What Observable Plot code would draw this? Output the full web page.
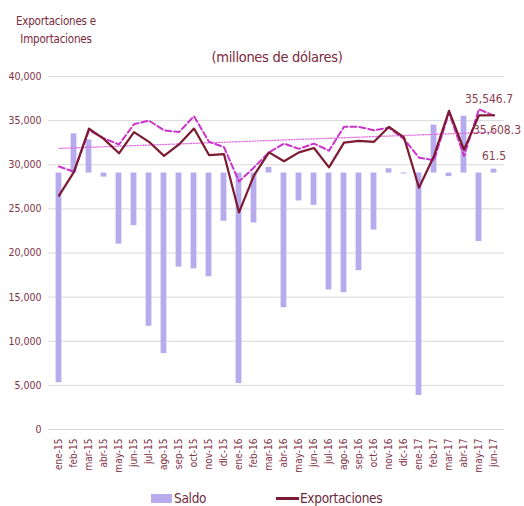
<!DOCTYPE html>
<html><head><meta charset="utf-8">
<script src="https://cdn.jsdelivr.net/npm/d3@7"></script>
<script src="https://cdn.jsdelivr.net/npm/@observablehq/plot@0.6"></script>
<style>
body{margin:0;background:#fff;}
#wrap{position:relative;width:524px;height:506px;overflow:hidden;font-family:"Liberation Sans Narrow","DejaVu Sans Condensed",sans-serif;}
.t{position:absolute;color:#7a2a3c;white-space:nowrap;}
</style></head><body>
<div id="wrap">
  <div id="chart" style="position:absolute;left:0;top:0"></div>
  <div class="t" style="left:0;width:112px;text-align:center;top:12px;font-size:11.5px;line-height:18px;letter-spacing:-0.2px">Exportaciones e<br>Importaciones</div>
  <div class="t" style="left:0;width:554px;text-align:center;top:49px;font-size:14.5px;letter-spacing:-0.3px">(millones de dólares)</div>
  <div class="t" style="left:151px;top:494px;width:21px;height:9px;background:#b7aaed"></div>
  <div class="t" style="left:174px;top:490px;font-size:13.5px;line-height:17px;color:#6e2a3a;letter-spacing:-0.3px">Saldo</div>
  <div class="t" style="left:276px;top:497px;width:23px;height:2.5px;background:#7b1a30"></div>
  <div class="t" style="left:300px;top:490px;font-size:13.5px;line-height:17px;color:#6e2a3a;letter-spacing:-0.3px">Exportaciones</div>
</div>
<script>
const months = ["ene-15","feb-15","mar-15","abr-15","may-15","jun-15","jul-15","ago-15","sep-15","oct-15","nov-15","dic-15",
  "ene-16","feb-16","mar-16","abr-16","may-16","jun-16","jul-16","ago-16","sep-16","oct-16","nov-16","dic-16",
  "ene-17","feb-17","mar-17","abr-17","may-17","jun-17"];
const exportaciones = [26500,29200,34100,32900,31300,33700,32600,31000,32300,34100,31100,31200,
  24600,28800,31400,30400,31400,31900,29700,32500,32700,32600,34300,33100,
  27400,31000,36100,31700,35600,35608.3];
const importaciones = [29800,29200,33900,33000,32300,34600,35000,33900,33700,35500,32600,32000,
  28100,29700,31400,32400,31800,32400,31600,34300,34300,33900,34200,32900,
  30800,30500,35900,31000,36300,35546.7];
// Saldo bars as drawn against the left axis (they hang from the saldo zero line)
const saldoBase = 29060;
const saldoBar = [5300,33500,32800,28600,21000,23100,11700,8600,18400,18200,17300,23600,
  5200,23400,29700,13800,25900,25400,15800,15500,18000,22600,29550,28950,
  3850,34500,28650,35500,21300,29500];
const trendMonths = ["ene-15","jun-17"];
const trendValues = [31850,33700];
const yTicks = [0,5000,10000,15000,20000,25000,30000,35000,40000];
const endLabels = [
  {month:"jun-17", value:35546.7, text:"35,546.7", dx:-5, dy:-17},
  {month:"jun-17", value:35608.3, text:"35,608.3", dx:3, dy:15},
  {month:"jun-17", value:29500, text:"61.5", dx:0, dy:-13}
];

const rows = months.map((m,i)=>({month:m, exp:exportaciones[i], imp:importaciones[i], saldo:saldoBar[i]}));
const trend = trendMonths.map((m,i)=>({month:m, value:trendValues[i]}));
const font = '"Liberation Sans Narrow","DejaVu Sans Condensed",sans-serif';

const chart = Plot.plot({
  width:524, height:480,
  marginTop:76, marginBottom:51, marginLeft:48, marginRight:20,
  x:{type:"band", domain:months, padding:0, label:null},
  y:{domain:[0,40000], label:null},
  style:{fontFamily:font, fontSize:"10px", color:"#7f3447", background:"transparent"},
  marks:[
    Plot.gridY(yTicks, {stroke:"#d9d9d9", strokeOpacity:1, strokeWidth:1}),
    Plot.axisY(yTicks, {tickSize:0, tickPadding:7, tickFormat:d3.format(","), label:null, fontSize:10.5}),
    Plot.axisX({tickSize:0, tickPadding:9, tickRotate:-90, label:null, fontSize:10}),
    Plot.barY(rows, {x:"month", y1:saldoBase, y2:"saldo", fill:"#b7aaed", insetLeft:4.6, insetRight:4.6}),
    Plot.line(trend, {x:"month", y:"value", stroke:"#e070e0", strokeWidth:1.3, strokeDasharray:"1.2,1.6"}),
    Plot.line(rows, {x:"month", y:"imp", stroke:"#cc33cc", strokeWidth:2, strokeDasharray:"6,3"}),
    Plot.line(rows, {x:"month", y:"exp", stroke:"#7b1a30", strokeWidth:2.2}),
    ...endLabels.map(d => Plot.text([d], {x:"month", y:"value", text:"text", dx:d.dx, dy:d.dy, fill:"#8b4050", fontSize:12, letterSpacing:"-0.3px"}))
  ]
});
document.getElementById("chart").appendChild(chart);
</script>
</body></html>
